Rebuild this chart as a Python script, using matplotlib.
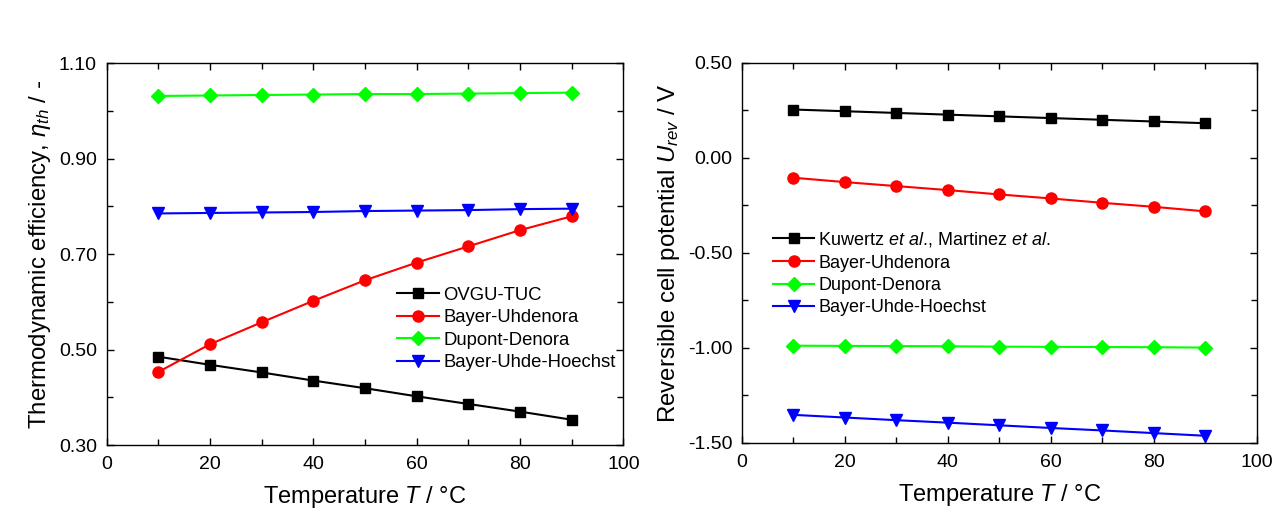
import matplotlib
matplotlib.use("Agg")
import matplotlib.pyplot as plt
from matplotlib.ticker import MultipleLocator, FormatStrFormatter

plt.rcParams['font.family'] = ['Liberation Sans', 'DejaVu Sans']
plt.rcParams['mathtext.fontset'] = 'custom'
plt.rcParams['mathtext.rm'] = 'Liberation Sans'
plt.rcParams['mathtext.it'] = 'Liberation Sans:italic'
plt.rcParams['mathtext.bf'] = 'Liberation Sans:bold'

temp = [10, 20, 30, 40, 50, 60, 70, 80, 90]

# thermodynamic efficiency
eta_ovgu = [0.485, 0.468, 0.452, 0.435, 0.419, 0.402, 0.386, 0.370, 0.353]
eta_uhdenora = [0.453, 0.511, 0.557, 0.602, 0.645, 0.682, 0.716, 0.750, 0.779]
eta_dupont = [1.031, 1.032, 1.033, 1.034, 1.035, 1.035, 1.036, 1.037, 1.038]
eta_hoechst = [0.785, 0.786, 0.787, 0.788, 0.790, 0.791, 0.792, 0.794, 0.795]

# reversible cell potential
u_kuwertz = [0.255, 0.246, 0.237, 0.228, 0.219, 0.210, 0.201, 0.192, 0.183]
u_uhdenora = [-0.104, -0.127, -0.148, -0.169, -0.192, -0.213, -0.236, -0.257, -0.281]
u_dupont = [-0.988, -0.989, -0.990, -0.991, -0.993, -0.994, -0.995, -0.996, -0.998]
u_hoechst = [-1.352, -1.366, -1.380, -1.393, -1.407, -1.421, -1.434, -1.448, -1.462]

fig = plt.figure(figsize=(12.86, 5.23), dpi=100)
ax1 = fig.add_axes([0.0829, 0.1491, 0.4018, 0.7304])
ax2 = fig.add_axes([0.577, 0.153, 0.4001, 0.7266])

styles = [('k', 's', 7), ('#ff0000', 'o', 8), ('#00ff00', 'D', 7), ('#0000ff', 'v', 8.5)]


def draw(ax, series, labels):
    for (c, m, ms), y, lab in zip(styles, series, labels):
        ax.plot(temp, y, color=c, marker=m, markersize=ms, lw=1.5, label=lab)
    ax.set_xlim(0, 100)
    ax.xaxis.set_major_locator(MultipleLocator(20))
    ax.xaxis.set_minor_locator(MultipleLocator(10))
    ax.tick_params(which='both', direction='in', top=True, right=True, labelsize=14)
    ax.tick_params(which='major', length=5, width=1)
    ax.tick_params(which='minor', length=4, width=1)
    ax.tick_params(axis='x', pad=8)
    ax.tick_params(axis='y', pad=7)
    for s in ax.spines.values():
        s.set_linewidth(1)
    ax.set_xlabel('Temperature $T$ / °C', fontsize=17, labelpad=8)


draw(ax1, [eta_ovgu, eta_uhdenora, eta_dupont, eta_hoechst],
     ['OVGU-TUC', 'Bayer-Uhdenora', 'Dupont-Denora', 'Bayer-Uhde-Hoechst'])
ax1.set_ylim(0.30, 1.10)
ax1.yaxis.set_major_locator(MultipleLocator(0.2, offset=0.1))
ax1.yaxis.set_minor_locator(MultipleLocator(0.1))
ax1.yaxis.set_major_formatter(FormatStrFormatter('%.2f'))
ax1.set_ylabel('Thermodynamic efficiency, $\\eta_{th}$ / -', fontsize=17.3)
ax1.legend(loc='upper left', bbox_to_anchor=(0.562, 0.414), frameon=False, fontsize=13.3,
           handlelength=2.3, handletextpad=0.2, labelspacing=0.3, borderaxespad=0,
           borderpad=0)

draw(ax2, [u_kuwertz, u_uhdenora, u_dupont, u_hoechst],
     ['Kuwertz $et$ $al$., Martinez $et$ $al$.', 'Bayer-Uhdenora', 'Dupont-Denora',
      'Bayer-Uhde-Hoechst'])
ax2.set_ylim(-1.50, 0.50)
ax2.yaxis.set_major_locator(MultipleLocator(0.5))
ax2.yaxis.set_minor_locator(MultipleLocator(0.25))
ax2.yaxis.set_major_formatter(FormatStrFormatter('%.2f'))
ax2.set_ylabel('Reversible cell potential $U_{rev}$ / V', fontsize=17.3)
ax2.legend(loc='upper left', bbox_to_anchor=(0.06, 0.56), frameon=False, fontsize=13,
           handlelength=2.3, handletextpad=0.2, labelspacing=0.3, borderaxespad=0,
           borderpad=0)

fig.savefig('out.png', dpi=100)
